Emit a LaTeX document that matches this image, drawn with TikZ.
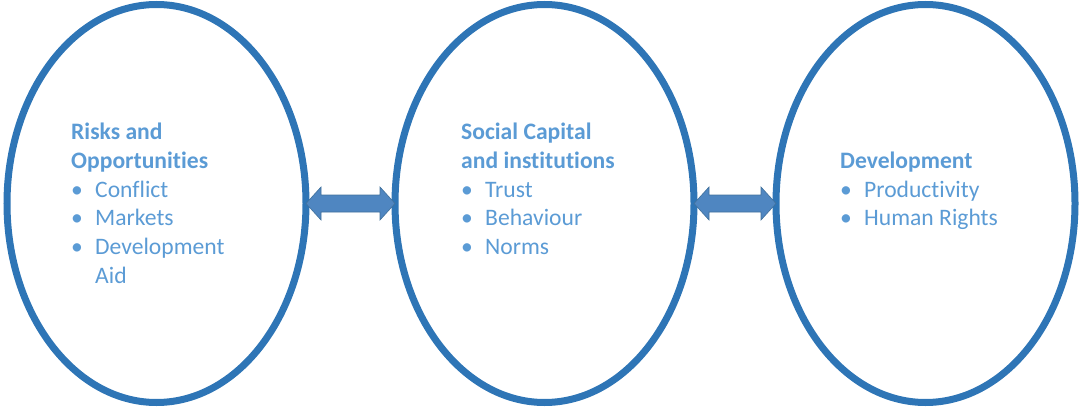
\documentclass[tikz,border=0pt]{standalone}
\usepackage{fontspec}
\setmainfont[Ligatures={NoCommon}]{Carlito}
\usetikzlibrary{shapes.geometric,calc}
\definecolor{ringblue}{HTML}{2E75B6}
\definecolor{txtblue}{HTML}{5B9BD5}
\definecolor{arrfill}{HTML}{4F86C1}
\definecolor{arrline}{HTML}{41719C}
\tikzset{
  ring/.style={ellipse, draw=ringblue, line width=7pt, minimum width=299pt, minimum height=398pt, inner sep=0pt, outer sep=0pt},
  ttl/.style={anchor=base west, inner sep=0pt, text=txtblue, font=\fontsize{23.6}{28.8}\selectfont\bfseries},
  itm/.style={anchor=base west, inner sep=0pt, text=txtblue, font=\fontsize{23.6}{28.8}\selectfont},
  dblarrow/.style={fill=arrfill, draw=arrline, line width=0.6pt, line join=miter}
}
\begin{document}
\begin{tikzpicture}[x=1pt,y=-1pt]
\useasboundingbox (0,0) rectangle (1081,409);
\node[ring] (e1) at (156.5,203.5) {};
\node[ring] (e2) at (544.5,203.5) {};
\node[ring] (e3) at (925.5,203.5) {};
% double arrows
\foreach \a/\b in {e1/e2, e2/e3}{
  \draw[dblarrow] (\a.east)
    -- ($(\a.east)+(15,-16.5)$) -- ($(\a.east)+(15,-8.5)$)
    -- ($(\b.west)+(-15,-8.5)$) -- ($(\b.west)+(-15,-16.5)$)
    -- (\b.west)
    -- ($(\b.west)+(-15,16.5)$) -- ($(\b.west)+(-15,8.5)$)
    -- ($(\a.east)+(15,8.5)$) -- ($(\a.east)+(15,16.5)$) -- cycle;
}
% block 1
\node[ttl] (t1a) at (71,139.5) {Risks and};
\node[ttl] (t1b) at (71,168.3) {Opportunities};
\node[itm] (b1a) at (71,197.1) {•};
\node[itm] (i1a) at (95,197.1) {Conflict};
\node[itm] (b1b) at (71,225.9) {•};
\node[itm] (i1b) at (95,225.9) {Markets};
\node[itm] (b1c) at (71,254.7) {•};
\node[itm] (i1c) at (95,254.7) {Development};
\node[itm] (i1d) at (95,283.5) {Aid};
% block 2
\node[ttl] (t2a) at (461,139.5) {Social Capital};
\node[ttl] (t2b) at (461,168.3) {and institutions};
\node[itm] (b2a) at (461,197.1) {•};
\node[itm] (i2a) at (485,197.1) {Trust};
\node[itm] (b2b) at (461,225.9) {•};
\node[itm] (i2b) at (485,225.9) {Behaviour};
\node[itm] (b2c) at (461,254.7) {•};
\node[itm] (i2c) at (485,254.7) {Norms};
% block 3
\node[ttl] (t3a) at (840,168.3) {Development};
\node[itm] (b3a) at (840,197.1) {•};
\node[itm] (i3a) at (864,197.1) {Productivity};
\node[itm] (b3b) at (840,225.9) {•};
\node[itm] (i3b) at (864,225.9) {Human Rights};
\end{tikzpicture}
\end{document}
